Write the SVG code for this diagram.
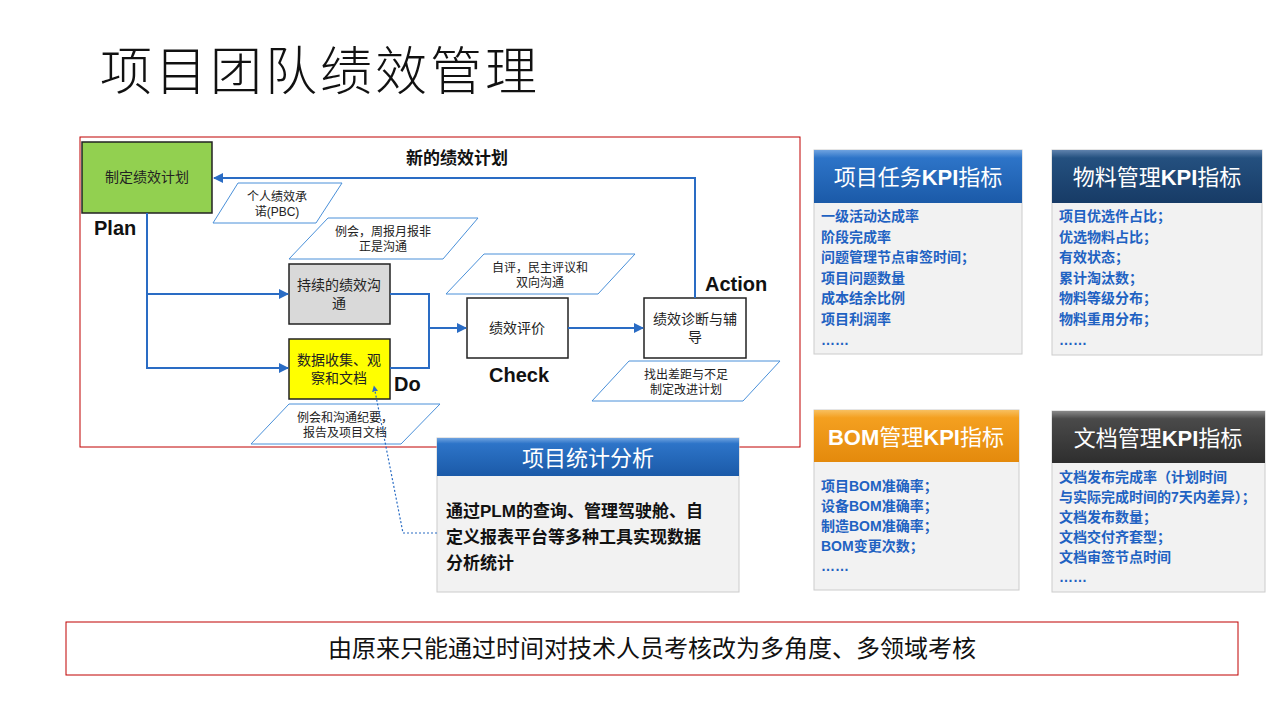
<svg xmlns="http://www.w3.org/2000/svg" width="1280" height="720" viewBox="0 0 1280 720">
<defs>
<style>
text{font-family:"Liberation Sans","Noto Sans CJK SC",sans-serif;}
.box{stroke:#222;stroke-width:1.5}
.bt{font-size:14px;fill:#222;text-anchor:middle}
.par{fill:#fff;stroke:#4a90d9;stroke-width:1}
.pt{font-size:12px;fill:#222;text-anchor:middle}
.lbl{font-size:20px;font-weight:bold;fill:#111}
.con{fill:none;stroke:#2a6cc4;stroke-width:2}
.kt{font-size:14px;font-weight:bold;fill:#1f62c2}
.ht{font-size:22px;fill:#fff;text-anchor:middle}
.panel{fill:#f2f2f2;stroke:#ccc;stroke-width:1}
</style>
<marker id="ar" viewBox="0 0 10 10" refX="9" refY="5" markerWidth="5" markerHeight="5" orient="auto"><path d="M0,0L10,5L0,10z" fill="#2a6cc4"/></marker>
<linearGradient id="gb" x1="0" y1="0" x2="0" y2="1"><stop offset="0" stop-color="#6fa3e0"/><stop offset="0.15" stop-color="#2d74c8"/><stop offset="1" stop-color="#1b5aa8"/></linearGradient>
<linearGradient id="gn" x1="0" y1="0" x2="0" y2="1"><stop offset="0" stop-color="#5f82ad"/><stop offset="0.15" stop-color="#24507f"/><stop offset="1" stop-color="#173b66"/></linearGradient>
<linearGradient id="go" x1="0" y1="0" x2="0" y2="1"><stop offset="0" stop-color="#f8c060"/><stop offset="0.15" stop-color="#f4a020"/><stop offset="1" stop-color="#e48a0c"/></linearGradient>
<linearGradient id="gg" x1="0" y1="0" x2="0" y2="1"><stop offset="0" stop-color="#888"/><stop offset="0.15" stop-color="#4a4a4a"/><stop offset="1" stop-color="#2e2e2e"/></linearGradient>
</defs>
<rect width="1280" height="720" fill="#fff"/>
<text x="100" y="90" font-size="52" letter-spacing="3" style="font-family:'Noto Sans CJK SC',sans-serif;font-weight:300" fill="#111">项目团队绩效管理</text>

<rect x="80" y="137" width="720" height="310" fill="none" stroke="#c00000" stroke-width="1"/>

<g id="plan"><rect class="box" x="82" y="142" width="130" height="71" fill="#92d050"/><text class="bt" x="147" y="182">制定绩效计划</text></g>
<g id="comm"><rect class="box" x="289" y="264" width="101" height="60" fill="#d9d9d9"/><text class="bt" x="339" y="290">持续的绩效沟</text><text class="bt" x="339" y="308">通</text></g>
<g id="data"><rect class="box" x="289" y="339" width="101" height="60" fill="#ffff00"/><text class="bt" x="339" y="365">数据收集、观</text><text class="bt" x="339" y="383">察和文档</text></g>
<g id="check"><rect class="box" x="467" y="298" width="101" height="60" fill="#fff"/><text class="bt" x="517" y="333">绩效评价</text></g>
<g id="action"><rect class="box" x="644" y="298" width="102" height="60" fill="#fff"/><text class="bt" x="695" y="324">绩效诊断与辅</text><text class="bt" x="695" y="342">导</text></g>

<g id="p1"><polygon class="par" points="238,183 342,183 316,223 213,223"/><text class="pt" x="277" y="201">个人绩效承</text><text class="pt" x="277" y="216">诺(PBC)</text></g>
<g id="p2"><polygon class="par" points="328,218 478,218 443,259 289,259"/><text class="pt" x="383" y="236">例会，周报月报非</text><text class="pt" x="383" y="251">正是沟通</text></g>
<g id="p3"><polygon class="par" points="484,254 635,254 598,294 446,294"/><text class="pt" x="540" y="272">自评，民主评议和</text><text class="pt" x="540" y="287">双向沟通</text></g>
<g id="p4"><polygon class="par" points="629,361 780,361 743,401 592,401"/><text class="pt" x="686" y="379">找出差距与不足</text><text class="pt" x="686" y="394">制定改进计划</text></g>
<g id="p5"><polygon class="par" points="289,404 440,404 401,444 251,444"/><text class="pt" x="345" y="422">例会和沟通纪要，</text><text class="pt" x="345" y="437">报告及项目文档</text></g>

<text class="lbl" x="94" y="235">Plan</text>
<text class="lbl" x="394" y="391">Do</text>
<text class="lbl" x="489" y="382">Check</text>
<text class="lbl" x="705" y="291">Action</text>
<text x="457" y="164" font-size="17" font-weight="bold" fill="#111" text-anchor="middle">新的绩效计划</text>

<g id="stats">
<rect x="437" y="438" width="302" height="154" fill="#f2f2f2" stroke="#ccc"/>
<rect x="437" y="438" width="302" height="38" fill="url(#gb)"/>
<text class="ht" x="588" y="466">项目统计分析</text>
<text x="446" y="517" font-size="17" font-weight="bold" fill="#111">通过PLM的查询、管理驾驶舱、自</text>
<text x="446" y="543" font-size="17" font-weight="bold" fill="#111">定义报表平台等多种工具实现数据</text>
<text x="446" y="569" font-size="17" font-weight="bold" fill="#111">分析统计</text>
</g>

<g id="connectors">
<polyline class="con" points="695,298 695,178 214,178" marker-end="url(#ar)"/>
<polyline class="con" points="147,213 147,368 288,368" marker-end="url(#ar)"/>
<polyline class="con" points="147,294 288,294" marker-end="url(#ar)"/>
<polyline class="con" points="390,294 429,294 429,368 390,368"/>
<polyline class="con" points="429,328 466,328" marker-end="url(#ar)"/>
<polyline class="con" points="568,328 643,328" marker-end="url(#ar)"/>
<polyline points="437,533 403,533 374,386" fill="none" stroke="#2a6cc4" stroke-width="1.2" stroke-dasharray="2,2" marker-end="url(#ar)"/>
</g>

<g id="kpi1">
<rect class="panel" x="814" y="150" width="208" height="204"/>
<rect x="814" y="150" width="208" height="53" fill="url(#gb)"/>
<text class="ht" x="918" y="185">项目任务<tspan font-weight="bold">KPI</tspan>指标</text>
<text class="kt" x="821" y="221">一级活动达成率</text>
<text class="kt" x="821" y="242">阶段完成率</text>
<text class="kt" x="821" y="262">问题管理节点审签时间；</text>
<text class="kt" x="821" y="283">项目问题数量</text>
<text class="kt" x="821" y="303">成本结余比例</text>
<text class="kt" x="821" y="324">项目利润率</text>
<text class="kt" x="821" y="345">……</text>
</g>
<g id="kpi2">
<rect class="panel" x="1052" y="150" width="210" height="205"/>
<rect x="1052" y="150" width="210" height="53" fill="url(#gn)"/>
<text class="ht" x="1157" y="185">物料管理<tspan font-weight="bold">KPI</tspan>指标</text>
<text class="kt" x="1059" y="221">项目优选件占比；</text>
<text class="kt" x="1059" y="242">优选物料占比；</text>
<text class="kt" x="1059" y="262">有效状态；</text>
<text class="kt" x="1059" y="283">累计淘汰数；</text>
<text class="kt" x="1059" y="303">物料等级分布；</text>
<text class="kt" x="1059" y="324">物料重用分布；</text>
<text class="kt" x="1059" y="345">……</text>
</g>
<g id="kpi3">
<rect class="panel" x="814" y="410" width="205" height="180"/>
<rect x="814" y="410" width="205" height="52" fill="url(#go)"/>
<text class="ht" x="916" y="445"><tspan font-weight="bold">BOM</tspan>管理<tspan font-weight="bold">KPI</tspan>指标</text>
<text class="kt" x="821" y="491">项目BOM准确率；</text>
<text class="kt" x="821" y="511">设备BOM准确率；</text>
<text class="kt" x="821" y="531">制造BOM准确率；</text>
<text class="kt" x="821" y="551">BOM变更次数；</text>
<text class="kt" x="821" y="571">……</text>
</g>
<g id="kpi4">
<rect class="panel" x="1052" y="411" width="213" height="181"/>
<rect x="1052" y="411" width="213" height="52" fill="url(#gg)"/>
<text class="ht" x="1158" y="446">文档管理<tspan font-weight="bold">KPI</tspan>指标</text>
<text class="kt" x="1059" y="482">文档发布完成率（计划时间</text>
<text class="kt" x="1059" y="502">与实际完成时间的7天内差异）；</text>
<text class="kt" x="1059" y="522">文档发布数量；</text>
<text class="kt" x="1059" y="542">文档交付齐套型；</text>
<text class="kt" x="1059" y="562">文档审签节点时间</text>
<text class="kt" x="1059" y="582">……</text>
</g>

<g id="summary">
<rect x="66" y="622" width="1172" height="53" fill="#fff" stroke="#c00000" stroke-width="1"/>
<text x="652" y="657" font-size="24" fill="#111" text-anchor="middle">由原来只能通过时间对技术人员考核改为多角度、多领域考核</text>
</g>
</svg>
